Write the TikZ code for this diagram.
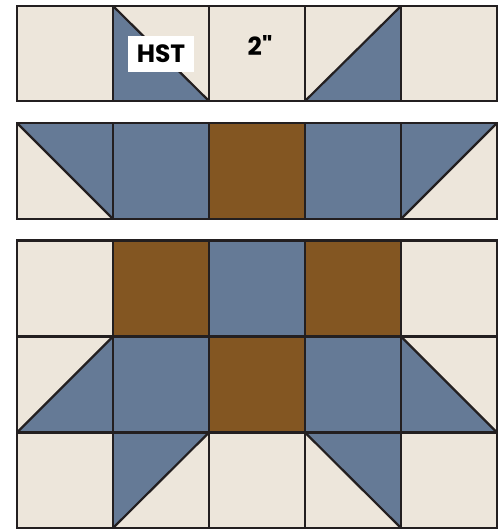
\documentclass[tikz,border=0pt]{standalone}
\usepackage{fontspec}
\newfontfamily\lblfont{Poppins}
\definecolor{cream}{HTML}{EDE6DB}
\definecolor{qblue}{HTML}{657A96}
\definecolor{qbrown}{HTML}{835622}
\definecolor{qline}{HTML}{231F20}
\tikzset{
  seam/.style={draw=qline, line width=2.6pt, line cap=rect},
  diag/.style={draw=qline, line width=2.2pt},
  lbl/.style={font={\fontsize{25}{25}\selectfont\lblfont\bfseries}, text=black, inner sep=0pt}
}
\begin{document}
\begin{tikzpicture}[x=1pt,y=-1pt]
\useasboundingbox (0,0) rectangle (499,529);
\fill[white] (0,0) rectangle (499,529);
% ---------- Row 1 (single strip) ----------
\fill[cream] (17,6) rectangle (497,101);
\fill[qblue] (113,6) -- (113,101) -- (209,101) -- cycle;
\fill[qblue] (305,101) -- (401,101) -- (401,6) -- cycle;
\draw[diag] (113,6) -- (209,101);
\draw[diag] (305,101) -- (401,6);
\draw[seam] (17,6) rectangle (497,101);
\foreach \x in {113,209,305,401} \draw[seam] (\x,6) -- (\x,101);
% ---------- Row 2 (strip) ----------
\fill[qblue] (17,123) rectangle (497,219);
\fill[qbrown] (209,123) rectangle (305,219);
\fill[cream] (17,123) -- (17,219) -- (113,219) -- cycle;
\fill[cream] (497,123) -- (497,219) -- (401,219) -- cycle;
\draw[diag] (17,123) -- (113,219);
\draw[diag] (401,219) -- (497,123);
\draw[seam] (17,123) rectangle (497,219);
\foreach \x in {113,209,305,401} \draw[seam] (\x,123) -- (\x,219);
% ---------- Block ----------
\fill[cream] (17,240.5) rectangle (497,528);
% row A
\fill[qbrown] (113,240.5) rectangle (209,336.5);
\fill[qblue] (209,240.5) rectangle (305,336.5);
\fill[qbrown] (305,240.5) rectangle (401,336.5);
% row B
\fill[qblue] (17,432.5) -- (113,432.5) -- (113,336.5) -- cycle;
\fill[qblue] (113,336.5) rectangle (209,432.5);
\fill[qbrown] (209,336.5) rectangle (305,432.5);
\fill[qblue] (305,336.5) rectangle (401,432.5);
\fill[qblue] (401,336.5) -- (401,432.5) -- (497,432.5) -- cycle;
% row C
\fill[qblue] (113,432.5) -- (209,432.5) -- (113,528) -- cycle;
\fill[qblue] (305,432.5) -- (401,432.5) -- (401,528) -- cycle;
\draw[diag] (17,432.5) -- (113,336.5);
\draw[diag] (401,336.5) -- (497,432.5);
\draw[diag] (209,432.5) -- (113,528);
\draw[diag] (305,432.5) -- (401,528);
\draw[seam] (17,240.5) rectangle (497,528);
\foreach \y in {336.5,432.5} \draw[seam] (17,\y) -- (497,\y);
\foreach \x in {113,209,305,401} \draw[seam] (\x,240.5) -- (\x,528);
% ---------- Labels ----------
\node[fill=white, minimum width=66pt, minimum height=36pt, inner sep=0pt] (hstbox) at (161,54) {};
\node[lbl] (hst) at (hstbox.center) {HST};
\node[lbl] (size) at (260,46) {2"};
\end{tikzpicture}
\end{document}
